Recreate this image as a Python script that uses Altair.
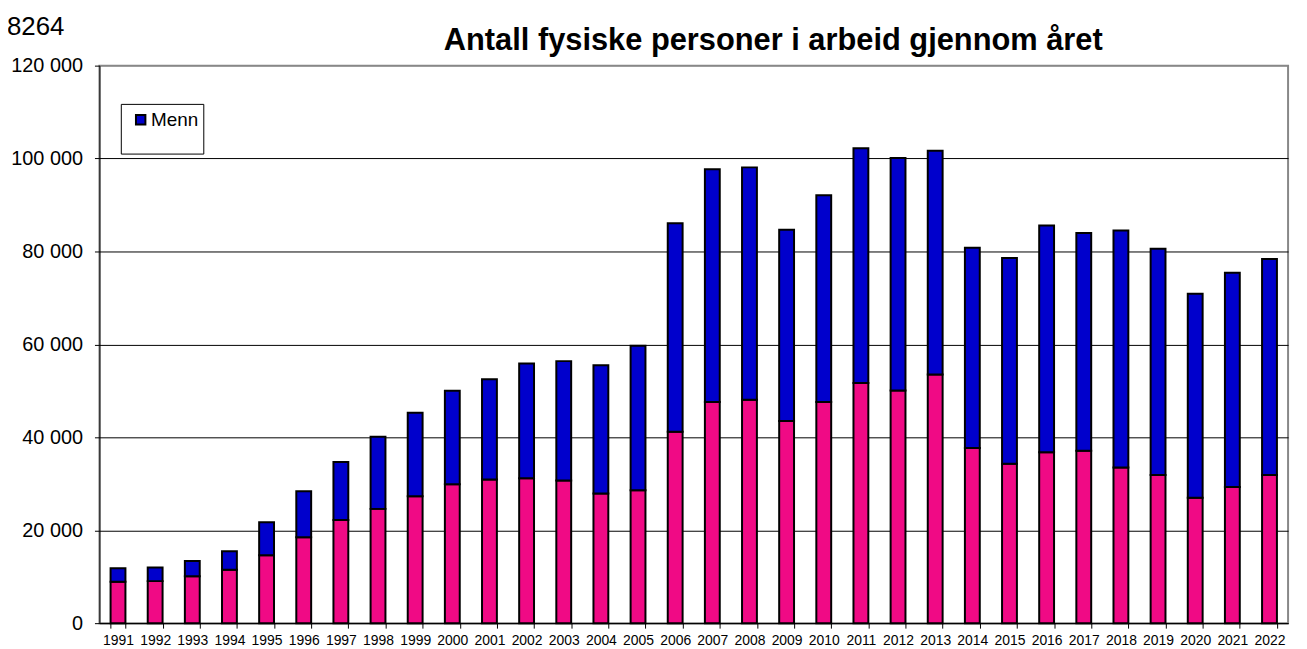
import altair as alt
import pandas as pd

years = [str(y) for y in range(1991, 2023)]
kvinner = [8900, 9050, 10100, 11500, 14600, 18500, 22200, 24600, 27300, 29900,
           30900, 31200, 30700, 27900, 28600, 41200, 47600, 48100, 43500, 47600,
           51700, 50100, 53500, 37700, 34300, 36800, 37100, 33500, 31900, 27000,
           29300, 31900]
menn = [2900, 2950, 3300, 4000, 7100, 9900, 12500, 15500, 18000, 20100,
        21600, 24700, 25700, 27600, 31100, 44900, 50100, 50000, 41200, 44500,
        50500, 50000, 48200, 43100, 44300, 48800, 46900, 51000, 48700, 43900,
        46100, 46500]
series = ["Kvinner", "Menn"]
colors = ["#F00A85", "#0000CC"]
y_ticks = [0, 20000, 40000, 60000, 80000, 100000, 120000]
title_text = "Antall fysiske personer i arbeid gjennom året"
corner_text = "8264"

rows = []
for i, yr in enumerate(years):
    rows.append({"år": yr, "kjønn": "Kvinner", "antall": kvinner[i], "rekkefølge": 0})
    rows.append({"år": yr, "kjønn": "Menn", "antall": menn[i], "rekkefølge": 1})
df = pd.DataFrame(rows)

FONT = "Liberation Sans"

bars = alt.Chart(df).mark_bar(stroke="black", strokeWidth=2).encode(
    x=alt.X("år:N", sort=years, title=None,
            scale=alt.Scale(paddingInner=0.6, paddingOuter=0.3),
            axis=alt.Axis(labelAngle=0, labelFontSize=14, labelFont=FONT,
                          labelColor="black", tickBand="extent", tickSize=5,
                          tickColor="black", domainColor="black", labelPadding=5,
                          labelOverlap=False, grid=False)),
    y=alt.Y("antall:Q", stack="zero", title=None,
            scale=alt.Scale(domain=[0, 120000], nice=False),
            axis=alt.Axis(values=y_ticks, labelFontSize=20, labelFont=FONT,
                          labelColor="black", tickSize=5, tickColor="black",
                          domainColor="black", labelPadding=12,
                          labelExpr="replace(format(datum.value, ',d'), ',', ' ')",
                          grid=True,
                          gridColor={"condition": {"test": "datum.value === 120000", "value": "#888888"}, "value": "black"},
                          gridWidth=1)),
    color=alt.Color("kjønn:N", scale=alt.Scale(domain=series, range=colors),
                    legend=alt.Legend(values=["Menn"], title=None, orient="none",
                                      legendX=32, legendY=45, padding=0,
                                      symbolType="square", symbolSize=90,
                                      symbolStrokeColor="black", symbolStrokeWidth=2,
                                      labelFontSize=19, labelFont=FONT,
                                      labelColor="black", labelOffset=1)),
    order=alt.Order("rekkefølge:Q", sort="ascending"),
)

frame = alt.Chart(pd.DataFrame({"a": [0]})).mark_rect(
    fill="white", stroke="black", strokeWidth=1
).encode(x=alt.value(22), x2=alt.value(105), y=alt.value(39), y2=alt.value(89))

corner = alt.Chart(pd.DataFrame({"t": [corner_text]})).mark_text(
    align="left", baseline="alphabetic", fontSize=26, font=FONT, color="black"
).encode(x=alt.value(-93), y=alt.value(-31), text="t:N")

chart = alt.layer(frame, bars, corner).properties(
    width=1196, height=561,
    title=alt.TitleParams(title_text, fontSize=31, fontWeight="bold", font=FONT,
                          color="black", anchor="middle", dx=80, dy=47, offset=4),
    autosize=alt.AutoSizeParams(type="none"),
    padding={"left": 92, "top": 56, "right": 11, "bottom": 24},
).configure_view(stroke="#888888", strokeWidth=2)

chart.save("out.html", embed_options={"renderer": "svg", "actions": False})
